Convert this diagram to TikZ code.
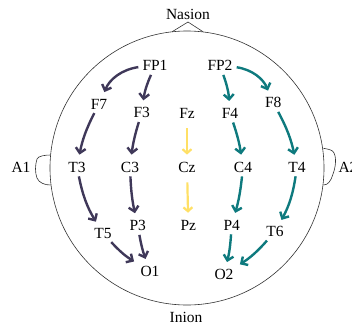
\documentclass[tikz,border=0pt]{standalone}
\usepackage{fontspec}
\setmainfont{Liberation Serif}
\usetikzlibrary{arrows.meta}
\definecolor{lpur}{HTML}{3F3859}
\definecolor{rteal}{HTML}{0E7A7E}
\definecolor{myel}{HTML}{FFE066}
\begin{document}
\begin{tikzpicture}[x=1pt,y=1pt,
  lbl/.style={inner sep=2pt, font=\fontsize{15.5}{18}\selectfont},
  parr/.style={draw=lpur, line width=2.4pt, -{Straight Barb[length=5pt,width=10pt]}, shorten <=2pt, shorten >=5pt},
  tarr/.style={draw=rteal, line width=2.4pt, -{Straight Barb[length=5pt,width=10pt]}, shorten <=2pt, shorten >=5pt},
  yarr/.style={draw=myel, line width=2.2pt, -{Straight Barb[length=4pt,width=9pt]}, shorten <=8pt, shorten >=5pt},
  outline/.style={draw=black!80, line width=0.6pt}]
\useasboundingbox (0,0) rectangle (352,325);
% head
\draw[outline] (187,157) circle[radius=137];
\draw[outline] (172,293.2) -- (188,303) -- (203,293.3);
\draw[outline] (50.6,170) .. controls (45,170) and (38,169) .. (37,166)
   .. controls (35,160) and (35,152) .. (37,147)
   .. controls (39,142) and (45,140) .. (50.5,140);
\draw[outline] (323.3,176.7) .. controls (328,176) and (333,175) .. (334,172)
   .. controls (337,166) and (335,156) .. (333,151)
   .. controls (331,144) and (328,140) .. (323.5,140);
% labels
\node[lbl] (Nasion) at (188,311) {Nasion};
\node[lbl] (Inion) at (186,8) {Inion};
\node[lbl] (A1) at (21,158) {A1};
\node[lbl] (A2) at (348,158) {A2};
\node[lbl] (FP1) at (155,259.3) {FP1};
\node[lbl] (FP2) at (220,259.3) {FP2};
\node[lbl] (F7) at (99,221) {F7};
\node[lbl] (F3) at (141.7,212.3) {F3};
\node[lbl] (Fz) at (187,212) {Fz};
\node[lbl] (F4) at (230,211.7) {F4};
\node[lbl] (F8) at (273.3,222.3) {F8};
\node[lbl] (T3) at (77,158) {T3};
\node[lbl] (C3) at (130,158) {C3};
\node[lbl] (Cz) at (187,158) {Cz};
\node[lbl] (C4) at (243,158) {C4};
\node[lbl] (T4) at (297,158) {T4};
\node[lbl] (T5) at (103,91.7) {T5};
\node[lbl] (P3) at (137.7,99.5) {P3};
\node[lbl] (Pz) at (188.3,100) {Pz};
\node[lbl] (P4) at (231.7,100) {P4};
\node[lbl] (T6) at (275,93.3) {T6};
\node[lbl] (O1) at (150,54) {O1};
\node[lbl] (O2) at (224,50.7) {O2};
% left chain
\draw[parr] (FP1) to[bend right=30] (F7);
\draw[parr] (FP1) to[bend right=8] (F3);
\draw[parr] (F7) to[bend right=8] (T3);
\draw[parr] (T3) to[bend right=10] (T5);
\draw[parr] (F3) to[bend right=5] (C3);
\draw[parr] (C3) to[bend right=5] (P3);
\draw[parr] (T5) to[bend right=8] (O1);
\draw[parr] (P3) to[bend right=5] (O1);
% middle
\draw[yarr] (Fz) -- (Cz);
\draw[yarr] (Cz) -- (Pz);
% right chain
\draw[tarr] (FP2) to[bend left=30] (F8);
\draw[tarr] (FP2) to[bend left=8] (F4);
\draw[tarr] (F8) to[bend left=8] (T4);
\draw[tarr] (T4) to[bend left=10] (T6);
\draw[tarr] (F4) to[bend left=5] (C4);
\draw[tarr] (C4) to[bend left=5] (P4);
\draw[tarr] (T6) to[bend left=8] (O2);
\draw[tarr] (P4) to[bend left=5] (O2);
\end{tikzpicture}
\end{document}
